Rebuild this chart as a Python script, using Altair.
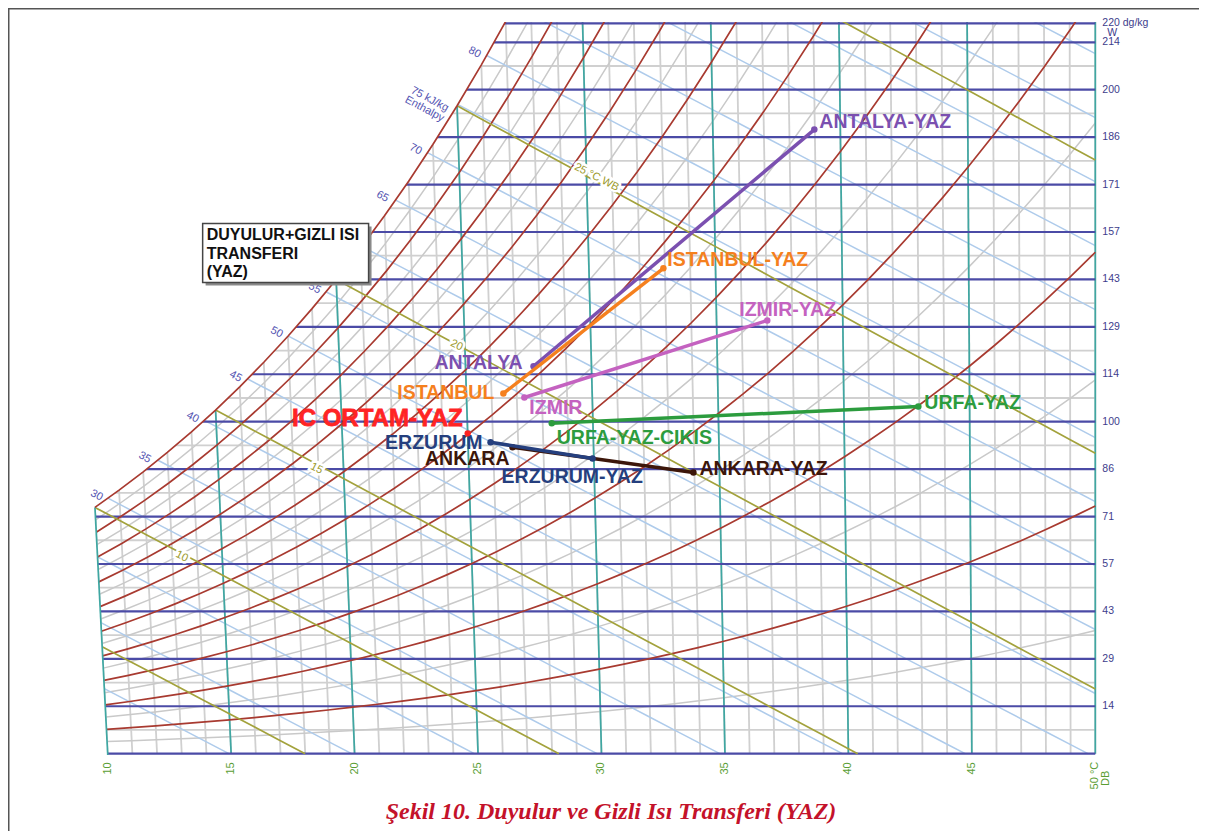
import altair as alt
import pandas as pd

# ---------------- values ----------------
# saturation vapour pressure (kPa) at 0..50 degC, used by the chart's curves
SAT_T = list(range(0, 51))
SAT_P = [0.6112, 0.6571, 0.7060, 0.7581, 0.8135, 0.8726, 0.9354, 1.0021, 1.0730, 1.1482,
         1.2282, 1.3130, 1.4028, 1.4981, 1.5990, 1.7058, 1.8188, 1.9384, 2.0647, 2.1983,
         2.3393, 2.4882, 2.6453, 2.8111, 2.9858, 3.1699, 3.3639, 3.5681, 3.7831, 4.0092,
         4.2470, 4.4969, 4.7596, 5.0354, 5.3251, 5.6290, 5.9479, 6.2823, 6.6328, 6.9999,
         7.3849, 7.7878, 8.2096, 8.6508, 9.1124, 9.5950, 10.099, 10.627, 11.177, 11.752,
         12.352]
RH_RED = [10, 20, 30, 40, 50, 60, 70, 80, 90]
RH_GRAY = [5, 15, 25, 35, 45, 55, 65, 75, 85, 95]
H_LEVELS = [15, 20, 25, 30, 35, 40, 45, 50, 55, 60, 65, 70, 75, 80, 85, 90, 95, 100, 105]
WB_LEVELS = [5, 10, 15, 20, 25, 30]
DB_GRID = list(range(10, 51))
DB_MAJOR = [10, 15, 20, 25, 30, 35, 40, 45, 50]
W_MAJOR = [0, 14.29, 28.57, 42.86, 57.14, 71.43, 85.71, 100, 114.29, 128.57, 142.86,
           157.14, 171.43, 185.71, 200, 214.29, 220]
W_MINOR = [7.14, 21.43, 35.71, 50, 64.29, 78.57, 92.86, 107.14, 121.43, 135.71, 150,
           164.29, 178.57, 192.86, 207.14]
W_LABEL_VALUES = [14.29, 28.57, 42.86, 57.14, 71.43, 85.71, 100, 114.29, 128.57, 142.86,
                  157.14, 171.43, 185.71, 200, 214.29]
W_LABELS = ["14", "29", "43", "57", "71", "86", "100", "114", "129", "143", "157", "171",
            "186", "200", "214"]
DB_LABELS = ["10", "15", "20", "25", "30", "35", "40", "45"]

# summer processes (dry bulb degC, humidity ratio dg/kg)
CITY = ["ANTALYA", "ISTANBUL", "IZMIR", "URFA", "ANKARA", "ERZURUM"]
START_T = [27.70, 26.47, 27.30, 28.36, 26.77, 25.90]
START_W = [116.7, 108.5, 107.3, 99.5, 92.3, 93.8]
END_T = [38.98, 32.94, 37.01, 42.96, 33.96, 29.95]
END_W = [188.0, 146.2, 130.5, 104.6, 84.7, 88.9]
START_TEXT = ["ANTALYA", "ISTANBUL", "IZMIR", "URFA-YAZ-CIKIS", "ANKARA", "ERZURUM"]
END_TEXT = ["ANTALYA-YAZ", "ISTANBUL-YAZ", "IZMIR-YAZ", "URFA-YAZ", "ANKARA-YAZ", "ERZURUM-YAZ"]
INDOOR_T = [25.0]
INDOOR_W = [96.5]
INDOOR_TEXT = ["IC ORTAM-YAZ"]

ENTH_LABELS = ["30", "35", "40", "45", "50", "55", "60", "65", "70", "75 kJ/kg\nEnthalpy", "80"]
ENTH_LABEL_X = [9.55, 11.50, 13.44, 15.18, 16.84, 18.38, 19.80, 21.13, 22.47, 23.04, 24.86]
ENTH_LABEL_W = [77.8, 89.2, 101.3, 113.6, 126.9, 140.2, 153.7, 167.8, 182.0, 197.1, 211.2]
WB_LABELS = ["10", "15", "20", "25 °C WB"]
WB_LABEL_X = [13.0, 18.46, 24.13, 29.80]
WB_LABEL_W = [59.4, 85.9, 123.0, 173.6]

BOX_LINES = ["DUYULUR+GIZLI ISI", "TRANSFERI", "(YAZ)"]
TITLE = "Şekil 10. Duyulur ve Gizli Isı Transferi (YAZ)"

# ---------------- chart construction ----------------
K_SKEW = 0.000174      # oblique dry-bulb lines of the chart
P_CHART = 104.2        # chart pressure calibration (kPa)


def skew(T, W):
    return T - K_SKEW * (50 - T) * W


def w_from_pv(pv):
    return 6220.0 * pv / (P_CHART - pv)


def build(groups):
    rows = []
    for g, pts in groups:
        for i, (T, W) in enumerate(pts):
            rows.append({"g": g, "o": i, "x": skew(T, W), "W": W})
    return pd.DataFrame(rows)


def wsat(T):
    return w_from_pv(SAT_P[T])


db_all = build([(f"db{T}", [(T, 0), (T, min(wsat(T), 224))]) for T in DB_GRID])
db_major = build([(f"db{T}", [(T, 0), (T, min(wsat(T), 224))]) for T in DB_MAJOR if T != 10])
db_ten = build([("db10", [(10, -0.4), (10, wsat(10))])])
w_major = pd.DataFrame([{"g": f"w{w}", "o": i, "x": x, "W": w}
                        for w in W_MAJOR for i, x in enumerate([8.5, 50])])
w_minor = pd.DataFrame([{"g": f"w{w}", "o": i, "x": x, "W": w}
                        for w in W_MINOR for i, x in enumerate([8.5, 50])])


def rh_curve(rh, t0=9):
    return [(T, w_from_pv(rh / 100.0 * SAT_P[T])) for T in range(t0, 51)]


rh_red = build([(f"rh{r}", rh_curve(r)) for r in RH_RED])
rh_gray = build([(f"rh{r}", rh_curve(r)) for r in RH_GRAY])
sat_line = build([("sat", [(T, wsat(T)) for T in range(10, 29)])])


def enth_line(h):
    pts = []
    for T in range(0, 51):
        W = 10000.0 * (h - 1.006 * T) / (2501 + 1.86 * T)
        if W < 0:
            break
        pts.append((T, W))
    t0 = h / 1.006
    if t0 <= 50:
        pts.append((t0, 0.0))
    return pts


enth = build([(f"h{h}", enth_line(h)) for h in H_LEVELS])


def wb_line(tw):
    ws = wsat(tw) / 10000.0
    a = (2501 - 2.326 * tw) * ws
    pts = []
    for T in range(tw, 51):
        W = 10000.0 * (a - 1.006 * (T - tw)) / (2501 + 1.86 * T - 4.186 * tw)
        if W < 0:
            break
        pts.append((T, W))
    t0 = tw + a / 1.006
    if t0 <= 50:
        pts.append((t0, 0.0))
    return pts


wb = build([(f"wb{t}", wb_line(t)) for t in WB_LEVELS])

# white masks outside the chart: above the saturation curve, and left of the 10 degC line
x10_top = skew(10, wsat(10))
mask_top = pd.DataFrame(
    [{"x": 8.5, "W": wsat(10), "top": 224.0}, {"x": x10_top, "W": wsat(10), "top": 224.0}]
    + [{"x": skew(T, wsat(T)), "W": wsat(T), "top": 224.0} for T in range(11, 29)])
mask_left = pd.DataFrame([
    {"x": 8.5, "W": wsat(10), "bot": -3.0},
    {"x": x10_top, "W": wsat(10), "bot": -3.0},
    {"x": 10.0, "W": 0.0, "bot": -3.0},
    {"x": skew(10, -3.0), "W": -3.0, "bot": -3.0},
])

X = alt.X("x:Q", scale=alt.Scale(domain=[9, 50.15], nice=False, zero=False), axis=None)
Y = alt.Y("W:Q", scale=alt.Scale(domain=[-0.4, 220.4], nice=False, zero=False), axis=None)


def lines(df, color, width, opacity=1.0):
    return alt.Chart(df).mark_line(color=color, strokeWidth=width, clip=True,
                                   opacity=opacity, strokeCap="butt").encode(
        x=X, y=Y, detail="g:N", order="o:Q")


layers = [
    lines(db_all, "#d0d0d0", 1.8),
    lines(w_minor, "#d0d0d0", 1.8),
    lines(rh_gray, "#c9c9c9", 1.5),
    lines(enth, "#aecbeb", 1.5),
    lines(db_major, "#3fa7a2", 1.7),
    lines(w_major, "#4b4ba6", 2.2),
    lines(rh_red, "#a83a30", 1.7),
    lines(wb, "#a3a23c", 1.7),
    alt.Chart(mask_top).mark_area(color="white", clip=True, opacity=1).encode(
        x=X, y=Y, y2="top:Q"),
    alt.Chart(mask_left).mark_area(color="white", clip=True, opacity=1).encode(
        x=X, y=Y, y2="bot:Q"),
    lines(db_ten, "#3fa7a2", 1.7),
    lines(sat_line, "#a83a30", 1.7),
]

# enthalpy labels
enth_lab = pd.DataFrame({"x": ENTH_LABEL_X, "W": ENTH_LABEL_W, "t": ENTH_LABELS})
layers.append(alt.Chart(enth_lab).mark_text(
    angle=28, fontSize=11, color="#5555b2", font="Liberation Sans", lineBreak="\n",
    lineHeight=11, align="center", baseline="middle").encode(x=X, y=Y, text="t:N"))

# wet bulb labels with a white halo
wb_lab = pd.DataFrame({"x": WB_LABEL_X, "W": WB_LABEL_W, "t": WB_LABELS})
layers.append(alt.Chart(wb_lab).mark_text(
    angle=27, fontSize=11, color="white", stroke="white", strokeWidth=5, font="Liberation Sans",
    align="center", baseline="middle").encode(x=X, y=Y, text="t:N"))
layers.append(alt.Chart(wb_lab).mark_text(
    angle=27, fontSize=11, color="#9c9a2c", font="Liberation Sans",
    align="center", baseline="middle").encode(x=X, y=Y, text="t:N"))

# process lines
COLORS = {"ANTALYA": "#7b50b0", "ISTANBUL": "#f5801e", "IZMIR": "#c462c0",
          "URFA": "#2c9c3e", "ANKARA": "#3c160a", "ERZURUM": "#253f7e"}
LABEL_STYLE_START = {"ANTALYA": (-11, -3, "right"), "ISTANBUL": (-9, 0, "right"),
                     "IZMIR": (5, 11, "left"), "URFA": (5, 15, "left"),
                     "ANKARA": (-3, 12, "right"), "ERZURUM": (-8, 1, "right")}
LABEL_STYLE_END = {"ANTALYA": (5, -8, "left"), "ISTANBUL": (4, -8, "left"),
                   "IZMIR": (-28, -10, "left"), "URFA": (6, -3, "left"),
                   "ANKARA": (6, -3, "left"), "ERZURUM": (-91, 18, "left")}

for i, c in enumerate(CITY):
    seg = build([(c, [(START_T[i], START_W[i]), (END_T[i], END_W[i])])])
    col = COLORS[c]
    layers.append(alt.Chart(seg).mark_line(color=col, strokeWidth=3.5).encode(
        x=X, y=Y, order="o:Q"))
    layers.append(alt.Chart(seg).mark_circle(color=col, size=42, opacity=1).encode(x=X, y=Y))

for i, c in enumerate(CITY):
    col = COLORS[c]
    s = pd.DataFrame({"x": [skew(START_T[i], START_W[i])], "W": [START_W[i]], "t": [START_TEXT[i]]})
    e = pd.DataFrame({"x": [skew(END_T[i], END_W[i])], "W": [END_W[i]], "t": [END_TEXT[i]]})
    dx, dy, al = LABEL_STYLE_START[c]
    layers.append(alt.Chart(s).mark_text(
        dx=dx, dy=dy, align=al, baseline="middle", fontSize=19.5, fontWeight="bold",
        font="Liberation Sans", color=col).encode(x=X, y=Y, text="t:N"))
    dx, dy, al = LABEL_STYLE_END[c]
    layers.append(alt.Chart(e).mark_text(
        dx=dx, dy=dy, align=al, baseline="middle", fontSize=19.5, fontWeight="bold",
        font="Liberation Sans", color=col).encode(x=X, y=Y, text="t:N"))

indoor = pd.DataFrame({"x": [skew(INDOOR_T[0], INDOOR_W[0])], "W": INDOOR_W, "t": INDOOR_TEXT})
layers.append(alt.Chart(indoor).mark_circle(color="#ff2020", size=40, opacity=1).encode(x=X, y=Y))
layers.append(alt.Chart(indoor).mark_text(
    dx=-5, dy=-14, align="right", baseline="middle", fontSize=24, fontWeight="bold",
    font="Liberation Sans", color="#ff2424", stroke="#ff2424", strokeWidth=0.8).encode(
    x=X, y=Y, text="t:N"))

# annotation box
box = pd.DataFrame({"x": [13.846], "x2": [20.567], "W": [159.7], "W2": [141.96]})
shadow = pd.DataFrame({"x": [13.966], "x2": [20.687], "W": [158.8], "W2": [141.06]})
layers.append(alt.Chart(shadow).mark_rect(color="#8a8a8a").encode(
    x=X, x2="x2:Q", y=Y, y2="W2:Q"))
layers.append(alt.Chart(box).mark_rect(fill="white", stroke="#454545", strokeWidth=1.5).encode(
    x=X, x2="x2:Q", y=Y, y2="W2:Q"))
box_txt = pd.DataFrame({"x": [14.01, 14.01, 14.01], "W": [154.6, 149.0, 143.5], "t": BOX_LINES})
layers.append(alt.Chart(box_txt).mark_text(
    align="left", baseline="alphabetic", fontSize=16, fontWeight="bold",
    font="Liberation Sans", color="#111111").encode(x=X, y=Y, text="t:N"))

# right axis labels
rl = pd.DataFrame({"x": [50] * len(W_LABELS), "W": W_LABEL_VALUES, "t": W_LABELS})
layers.append(alt.Chart(rl).mark_text(
    dx=7, align="left", baseline="middle", fontSize=10.5, font="Liberation Sans",
    color="#3d3d8c").encode(x=X, y=Y, text="t:N"))
top_l = pd.DataFrame({"x": [50], "W": [220], "t": ["220 dg/kg"]})
layers.append(alt.Chart(top_l).mark_text(
    dx=7, dy=0, align="left", baseline="middle", fontSize=10.5, font="Liberation Sans",
    color="#3d3d8c").encode(x=X, y=Y, text="t:N"))
layers.append(alt.Chart(pd.DataFrame({"x": [50], "W": [220], "t": ["W"]})).mark_text(
    dx=17, dy=10, align="center", baseline="middle", fontSize=10.5, font="Liberation Sans",
    color="#3d3d8c").encode(x=X, y=Y, text="t:N"))

# bottom axis labels
bl = pd.DataFrame({"x": DB_MAJOR[:-1], "W": [-2.6] * len(DB_LABELS), "t": DB_LABELS})
layers.append(alt.Chart(bl).mark_text(
    angle=270, align="right", baseline="middle", fontSize=11, font="Liberation Sans",
    color="#5a9e34").encode(x=X, y=Y, text="t:N"))
layers.append(alt.Chart(pd.DataFrame({"x": [50], "W": [-6.6], "t": ["50 °C"]})).mark_text(
    angle=270, align="center", baseline="middle", fontSize=11, font="Liberation Sans",
    color="#5a9e34").encode(x=X, y=Y, text="t:N"))
layers.append(alt.Chart(pd.DataFrame({"x": [50.45], "W": [-7.4], "t": ["DB"]})).mark_text(
    angle=270, align="center", baseline="middle", fontSize=11, font="Liberation Sans",
    color="#5a9e34").encode(x=X, y=Y, text="t:N"))

# figure caption
layers.append(alt.Chart(pd.DataFrame({"x": [30.385], "W": [-17.7], "t": [TITLE]})).mark_text(
    align="center", baseline="middle", fontSize=24, fontWeight="bold", fontStyle="italic",
    font="Liberation Serif", color="#c4122a").encode(x=X, y=Y, text="t:N"))

# page frame
frame_src = pd.DataFrame({"k": [0]})
layers.append(alt.Chart(frame_src).mark_rule(color="#555555", strokeWidth=2).encode(
    x=alt.value(-75), x2=alt.value(1120), y=alt.value(-13.5)))
layers.append(alt.Chart(frame_src).mark_rule(color="#555555", strokeWidth=2).encode(
    x=alt.value(-74.5), y=alt.value(-14), y2=alt.value(820)))

chart = alt.layer(*layers).properties(
    width=1016, height=733,
    padding={"left": 75, "top": 14, "right": 100, "bottom": 76},
    autosize=alt.AutoSizeParams(type="none"),
    background="white",
).configure_view(stroke=None)

chart.save("out.html", embed_options={"renderer": "svg", "actions": False})
